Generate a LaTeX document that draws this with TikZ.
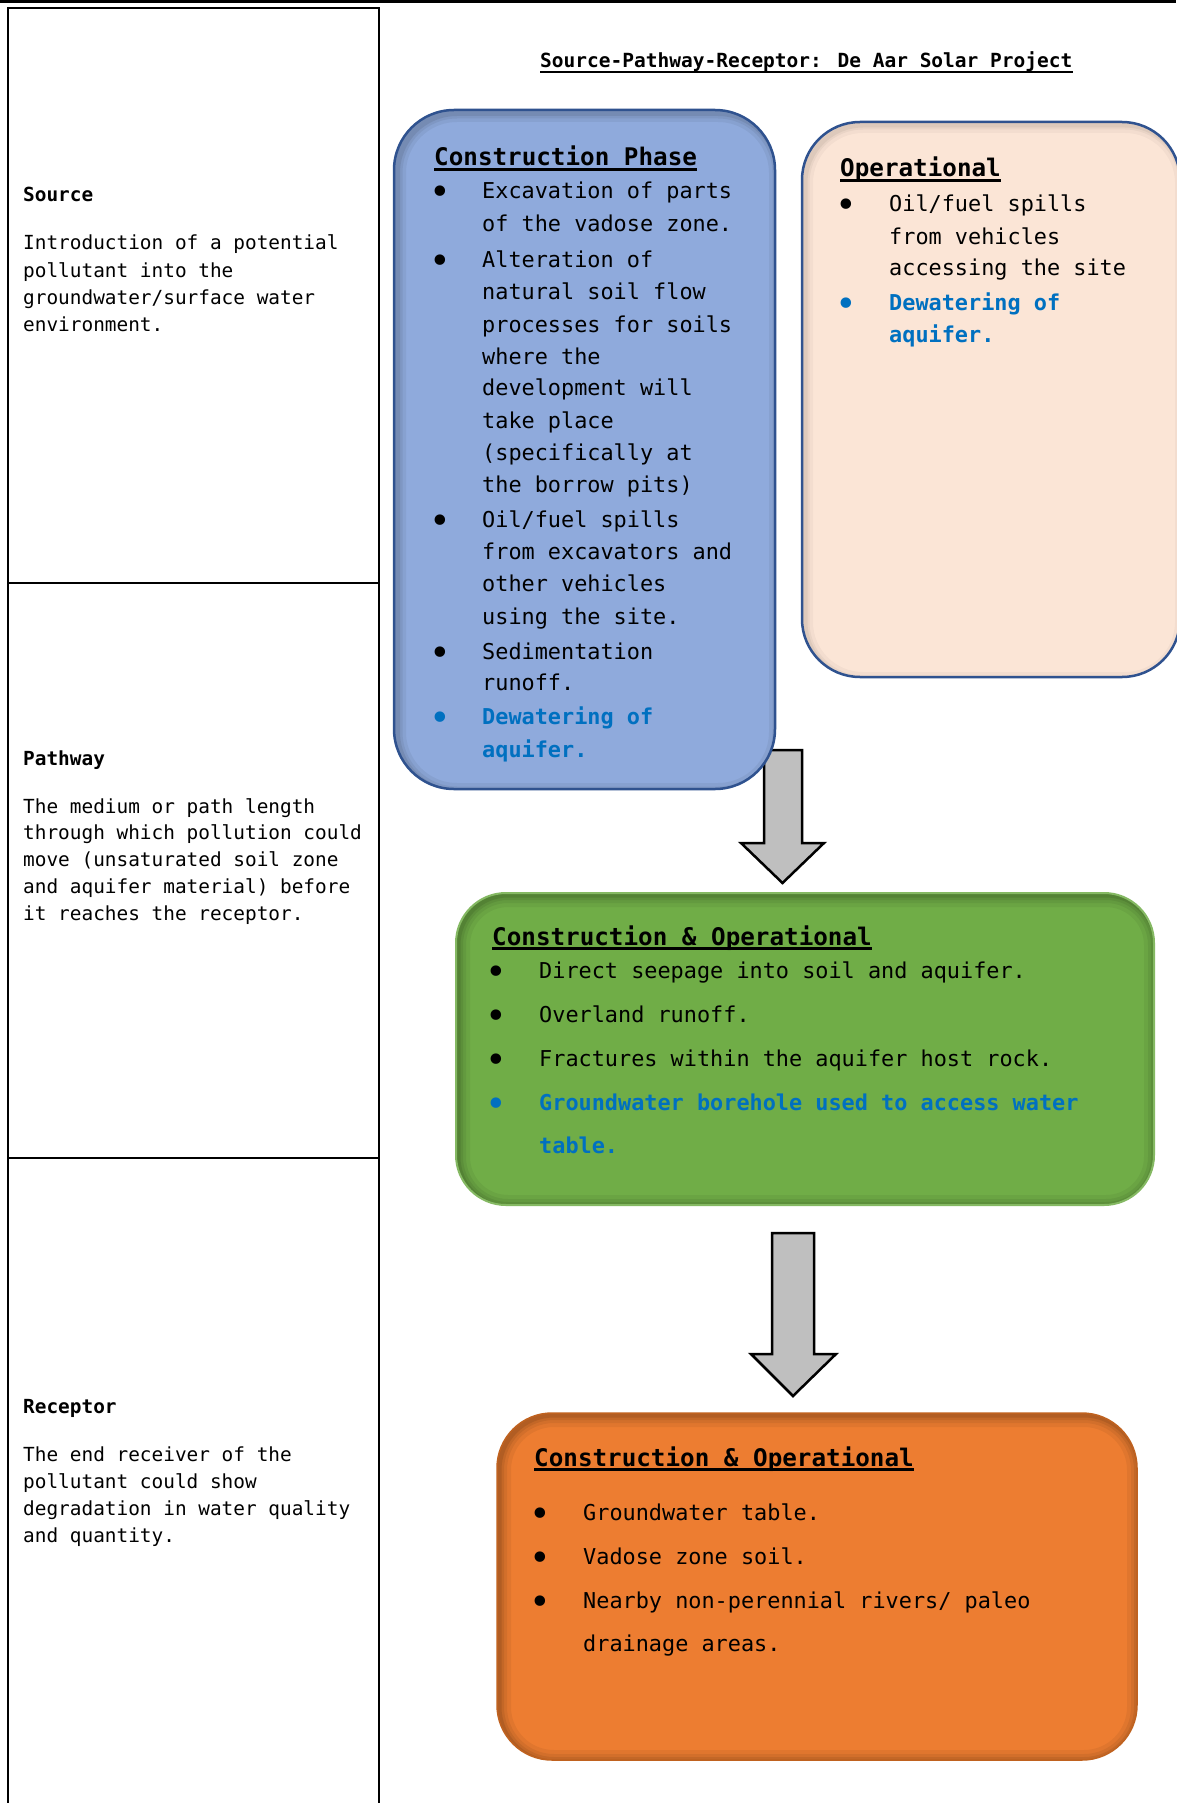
\documentclass[tikz,border=0pt]{standalone}
\usepackage{fontspec}
\newfontfamily\cons{DejaVu Sans Mono}
\definecolor{boxblue}{HTML}{8FAADC}
\definecolor{edgeblue}{HTML}{2F528F}
\definecolor{peach}{HTML}{FBE5D6}
\definecolor{grn}{HTML}{70AD47}
\definecolor{grnedge}{HTML}{5F9A3A}
\definecolor{orng}{HTML}{ED7D31}
\definecolor{orngedge}{HTML}{C0621F}
\definecolor{txtblue}{HTML}{0070C0}
\definecolor{arrgray}{HTML}{BFBFBF}
\tikzset{
  lefttxt/.style={anchor=base west, inner sep=0pt, font=\cons\fontsize{19.4}{23}\selectfont},
  lefthead/.style={anchor=base west, inner sep=0pt, font=\cons\bfseries\fontsize{19.4}{23}\selectfont},
  titletxt/.style={anchor=base west, inner sep=0pt, font=\cons\bfseries\fontsize{19.5}{23}\selectfont},
  boxhead/.style={anchor=base west, inner sep=0pt, font=\cons\bfseries\fontsize{24.25}{29}\selectfont},
  boxtxt/.style={anchor=base west, inner sep=0pt, font=\cons\fontsize{21.85}{26}\selectfont},
  boxblt/.style={anchor=base, inner sep=0pt, yshift=-6pt, font=\cons\fontsize{36}{40}\selectfont},
  hltxt/.style={boxtxt, text=txtblue, font=\cons\bfseries\fontsize{21.85}{26}\selectfont},
  hlblt/.style={boxblt, text=txtblue},
  frame/.style={line width=2pt, draw=black},
  blockarrow/.style={fill=arrgray, draw=black, line width=2.5pt, line join=miter},
}
\begin{document}
\begin{tikzpicture}[x=1pt,y=-1pt]
\useasboundingbox (0,0) rectangle (1176,1803);
\fill[white] (0,0) rectangle (1176,1803);

% top rule and left table
\draw[line width=3pt] (0,1.5) -- (1176,1.5);
\draw[frame] (8,1803) -- (8,8) -- (379,8) -- (379,1803);
\draw[frame] (8,583) -- (379,583);
\draw[frame] (8,1158) -- (379,1158);

% left column texts
\node[lefthead] (srch) at (23,202) {Source};
\foreach [count=\i] \yy/\t in {250/{Introduction of a potential},277/{pollutant into the},304/{groundwater/surface water},331/{environment.}}
  \node[lefttxt] (src\i) at (23,\yy) {\t};
\node[lefthead] (pathh) at (23,765) {Pathway};
\foreach [count=\i] \yy/\t in {813/{The medium or path length},839/{through which pollution could},866/{move (unsaturated soil zone},893/{and aquifer material) before},920/{it reaches the receptor.}}
  \node[lefttxt] (path\i) at (23,\yy) {\t};
\node[lefthead] (rech) at (23,1413) {Receptor};
\foreach [count=\i] \yy/\t in {1461/{The end receiver of the},1488/{pollutant could show},1515/{degradation in water quality},1542/{and quantity.}}
  \node[lefttxt] (rec\i) at (23,\yy) {\t};

% title
\node[titletxt] (title) at (540,68) {Source-Pathway-Receptor: De Aar Solar Project};
\draw[line width=2pt] ([yshift=-4pt]title.base west) -- ([yshift=-4pt]title.base east);

% arrow 1 (behind blue box)
\draw[blockarrow] (764,750) -- (802,750) -- (802,843) -- (824,843) -- (782.5,883) -- (741,843) -- (764,843) -- cycle;
\coordinate (a1tip) at (782.5,883);

% construction phase box
\fill[boxblue, rounded corners=60pt] (394,110) rectangle (775,789);
\begin{scope}
  \clip[rounded corners=60pt] (394,110) rectangle (775,789);
  \foreach \w/\o in {18/0.05,11/0.06,6/0.08}
    \draw[black, opacity=\o, line width=\w pt, rounded corners=60pt] (397,113) rectangle (778,792);
\end{scope}
\draw[edgeblue, line width=2.5pt, rounded corners=60pt] (394,110) rectangle (775,789);
\node[boxhead] (cph) at (434,166) {Construction Phase};
\draw[line width=3pt] ([yshift=-3.5pt]cph.base west) -- ([yshift=-3.5pt]cph.base east);
\foreach [count=\i] \yy/\t in {199/{Excavation of parts},232/{of the vadose zone.},267/{Alteration of},299/{natural soil flow},332/{processes for soils},364/{where the},395/{development will},428/{take place},460/{(specifically at},492/{the borrow pits)},527/{Oil/fuel spills},559/{from excavators and},591/{other vehicles},624/{using the site.},659/{Sedimentation},690/{runoff.}}
  \node[boxtxt] (cp\i) at (482,\yy) {\t};
\foreach [count=\i] \yy in {199,267,527,659}
  \node[boxblt] (cpb\i) at (440,\yy) {•};
\node[hlblt] (cpb5) at (440,724) {•};
\node[hltxt] (cp17) at (482,724) {Dewatering of};
\node[hltxt] (cp18) at (482,757) {aquifer.};

% operational box
\fill[peach, rounded corners=58pt] (802,122) rectangle (1180,677);
\begin{scope}
  \clip[rounded corners=58pt] (802,122) rectangle (1180,677);
  \foreach \w/\o in {16/0.03,9/0.04,5/0.05}
    \draw[black, opacity=\o, line width=\w pt, rounded corners=58pt] (805,125) rectangle (1183,680);
\end{scope}
\draw[edgeblue, line width=2.5pt, rounded corners=58pt] (802,122) rectangle (1180,677);
\node[boxhead] (oph) at (840,177) {Operational};
\draw[line width=3pt] ([yshift=-3.5pt]oph.base west) -- ([yshift=-3.5pt]oph.base east);
\node[boxblt] (opb1) at (846,212) {•};
\foreach [count=\i] \yy/\t in {212/{Oil/fuel spills},244/{from vehicles},275/{accessing the site}}
  \node[boxtxt] (op\i) at (889,\yy) {\t};
\node[hlblt] (opb2) at (846,310) {•};
\node[hltxt] (op4) at (889,310) {Dewatering of};
\node[hltxt] (op5) at (889,342) {aquifer.};

% pathway (green) box
\fill[grn, rounded corners=50pt] (456,893) rectangle (1154,1205);
\begin{scope}
  \clip[rounded corners=50pt] (456,893) rectangle (1154,1205);
  \foreach \w/\o in {24/0.05,16/0.06,10/0.07,5/0.09}
    \draw[black, opacity=\o, line width=\w pt, rounded corners=50pt] (458,895) rectangle (1156,1207);
\end{scope}
\draw[grn!85!white, line width=2pt, rounded corners=50pt] (456,893) rectangle (1154,1205);
\node[boxhead] (gh) at (492,945) {Construction \& Operational};
\draw[line width=3pt] ([yshift=-3.5pt]gh.base west) -- ([yshift=-3.5pt]gh.base east);
\foreach [count=\i] \yy/\t in {978/{Direct seepage into soil and aquifer.},1022/{Overland runoff.},1066/{Fractures within the aquifer host rock.}}
  {\node[boxblt] (gb\i) at (496,\yy) {•};
   \node[boxtxt] (g\i) at (539,\yy) {\t};}
\node[hlblt] (gb4) at (496,1110) {•};
\node[hltxt] (g4) at (539,1110) {Groundwater borehole used to access water};
\node[hltxt] (g5) at (539,1153) {table.};

% arrow 2
\coordinate (a2top) at (793,1233);
\draw[blockarrow] (772,1233) -- (814,1233) -- (814,1354) -- (836,1354) -- (793,1396) -- (751,1354) -- (772,1354) -- cycle;

% receptor (orange) box
\fill[orng, rounded corners=55pt] (497,1413) rectangle (1137,1760);
\begin{scope}
  \clip[rounded corners=55pt] (497,1413) rectangle (1137,1760);
  \foreach \w/\o in {24/0.05,16/0.06,10/0.07,5/0.09}
    \draw[black, opacity=\o, line width=\w pt, rounded corners=55pt] (499,1415) rectangle (1139,1762);
\end{scope}
\draw[orngedge, line width=1.5pt, rounded corners=55pt] (497,1413) rectangle (1137,1760);
\node[boxhead] (oh) at (534,1466) {Construction \& Operational};
\draw[line width=3pt] ([yshift=-3.5pt]oh.base west) -- ([yshift=-3.5pt]oh.base east);
\foreach [count=\i] \yy/\t in {1520/{Groundwater table.},1564/{Vadose zone soil.},1608/{Nearby non-perennial rivers/ paleo}}
  {\node[boxblt] (ob\i) at (540,\yy) {•};
   \node[boxtxt] (o\i) at (583,\yy) {\t};}
\node[boxtxt] (o4) at (583,1651) {drainage areas.};
\end{tikzpicture}
\end{document}
